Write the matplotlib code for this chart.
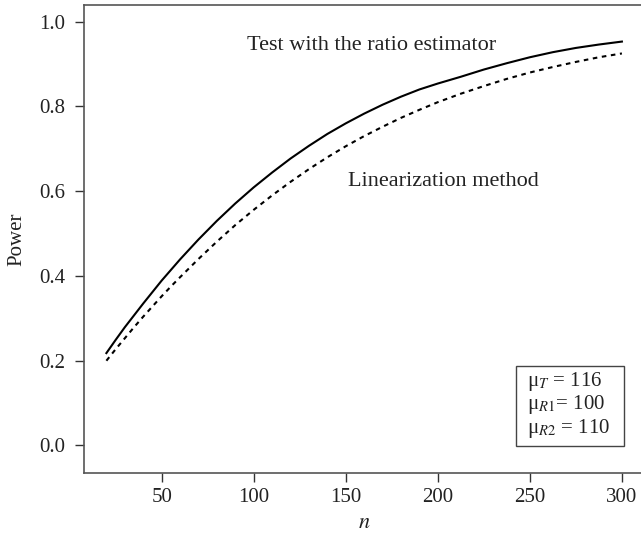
import numpy as np
import matplotlib
matplotlib.use("Agg")
import matplotlib.pyplot as plt
from matplotlib.patches import Rectangle

plt.rcParams['font.family'] = ['Liberation Serif', 'DejaVu Serif']
plt.rcParams['mathtext.fontset'] = 'stix'

# Sample size and power values
n = [20, 25, 30, 35, 40, 45, 50, 55, 60, 70, 80, 90, 100, 110, 120, 130, 140,
     150, 160, 170, 180, 190, 200, 212.5, 225, 237.5, 250, 262.5, 275, 287.5, 300]
power_ratio = [0.218, 0.249, 0.279, 0.307, 0.335, 0.362, 0.389, 0.414, 0.439,
               0.486, 0.530, 0.571, 0.609, 0.644, 0.677, 0.707, 0.735, 0.760,
               0.783, 0.804, 0.823, 0.840, 0.854, 0.870, 0.887, 0.902, 0.916,
               0.928, 0.938, 0.946, 0.953]
power_linear = [0.200, 0.227, 0.253, 0.279, 0.304, 0.328, 0.352, 0.375, 0.397,
                0.440, 0.481, 0.520, 0.556, 0.590, 0.622, 0.652, 0.680, 0.706,
                0.730, 0.752, 0.773, 0.792, 0.810, 0.830, 0.848, 0.865, 0.880,
                0.893, 0.905, 0.916, 0.925]

xticks = [50, 100, 150, 200, 250, 300]
yticks = [0.0, 0.2, 0.4, 0.6, 0.8, 1.0]
legend_lines = ['μ$_{T}$ = 116', 'μ$_{R1}$= 100', 'μ$_{R2}$ = 110']

W, H = 641, 536
fig = plt.figure(figsize=(W / 100, H / 100), dpi=100)
# axes box measured in pixels: left 84, right beyond the picture, top 5, bottom 473
ax = fig.add_axes([84.3 / W, (H - 473.3) / H, (644 - 84.3) / W, (473.3 - 4.7) / H])

ax.plot(n, power_ratio, color='black', lw=1.5, solid_joinstyle='round')
ax.plot(n, power_linear, color='black', lw=1.5, linestyle=(0, (2.2, 2.2)))

ax.set_xlim(8, 312)
ax.set_ylim(-0.0656, 1.040)
ax.set_xticks(xticks)
ax.set_yticks(yticks)
ax.set_yticklabels(['%.1f' % v for v in yticks])

for s in ax.spines.values():
    s.set_color('#555555')
    s.set_linewidth(1.2)
ax.spines['right'].set_visible(False)
ax.tick_params(direction='out', length=6.7, width=1.0, color='#333333',
               labelsize=15, colors='#222222')
ax.tick_params(axis='y', pad=7)
ax.tick_params(axis='x', pad=4)

ax.set_xlabel('$n$', fontsize=16, color='#222222', labelpad=5)
ax.set_ylabel('Power', fontsize=15, color='#222222', labelpad=9)

ax.text(96.3, 0.943, 'Test with the ratio estimator', fontsize=16,
        va='center', ha='left', color='#222222')
ax.text(151.2, 0.622, 'Linearization method', fontsize=16,
        va='center', ha='left', color='#222222')

# parameter box
ax.add_patch(Rectangle((0.7708, 0.0589), 0.194, 0.170, transform=ax.transAxes,
                       fill=False, edgecolor='#444444', lw=1.0))
for i, txt in enumerate(legend_lines):
    ax.text(0.7915, 0.1955 - i * 0.0497, txt, transform=ax.transAxes,
            fontsize=15, va='center', ha='left', color='#222222')

fig.savefig('out.png', dpi=100)
